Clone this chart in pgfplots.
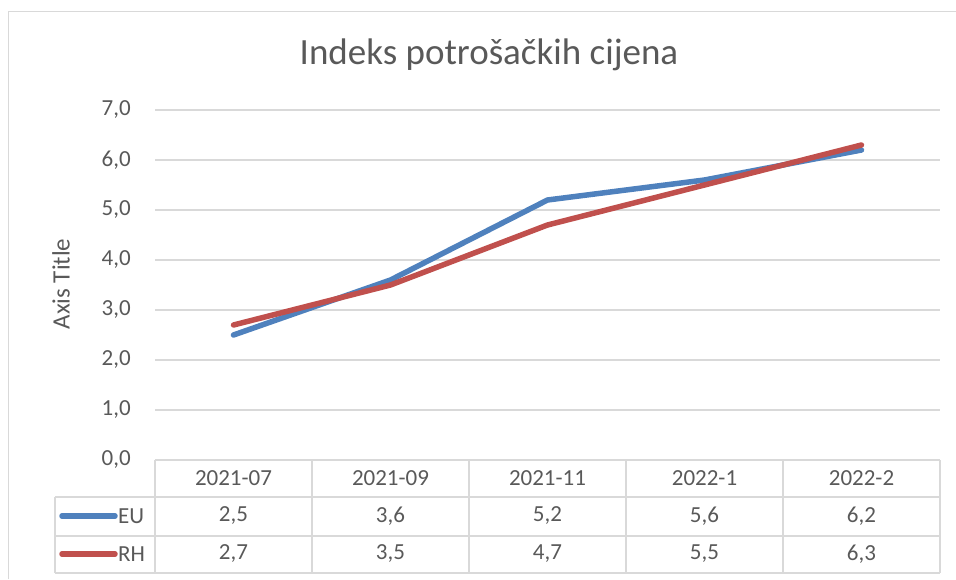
\documentclass[border=0pt]{standalone}
\usepackage{pgfplots}
\pgfplotsset{compat=1.18}
\usepackage{fontspec}
\setmainfont{Carlito}
\definecolor{txt}{HTML}{595959}
\definecolor{gridc}{HTML}{D9D9D9}
\definecolor{eu}{HTML}{4F81BD}
\definecolor{rh}{HTML}{C0504D}
\newcommand{\tf}{\fontsize{23}{27}\selectfont}
\begin{document}
\begin{tikzpicture}[x=1pt,y=1pt]
\path[use as bounding box] (0,0) rectangle (956,579);
\draw[gridc, line width=1pt] (8,0) -- (8,567) -- (956,567);
\begin{axis}[
  at={(155pt,119pt)}, anchor=south west,
  width=785pt, height=350pt, scale only axis,
  xmin=-0.5, xmax=4.5, ymin=0, ymax=7,
  ytick={0,1,2,3,4,5,6,7}, xtick=\empty,
  axis line style={draw=none},
  ymajorgrids, grid style={gridc, line width=1.5pt},
  major tick length=0pt,
  yticklabel style={font=\tf, text=txt, inner sep=0pt, anchor=east, xshift=-24pt},
  /pgf/number format/.cd, fixed, fixed zerofill, precision=1, use comma, assume math mode=true,
  /pgfplots/.cd, clip=false
]
\addplot[eu, line width=5.5pt, line cap=round, line join=round] coordinates {(0,2.5)(1,3.6)(2,5.2)(3,5.6)(4,6.2)};
\addplot[rh, line width=5.5pt, line cap=round, line join=round] coordinates {(0,2.7)(1,3.5)(2,4.7)(3,5.5)(4,6.3)};
\end{axis}
% data table
\draw[gridc, line width=1.5pt] (155,119) -- (940,119);
\foreach \yy in {82,43,6} \draw[gridc, line width=1.5pt] (55,\yy) -- (940,\yy);
\foreach \xx in {155,312,469,626,783,940} \draw[gridc, line width=1.5pt] (\xx,119) -- (\xx,6);
\draw[gridc, line width=1.5pt] (55,82) -- (55,6);
\foreach \lab [count=\i from 0] in {2021-07,2021-09,2021-11,2022-1,2022-2}
  \node[font=\tf, text=txt] at ({233.5+157*\i},101) {\lab};
\foreach \v [count=\i from 0] in {{2,5},{3,6},{5,2},{5,6},{6,2}}
  \node[font=\tf, text=txt] at ({233.5+157*\i},63) {\v};
\foreach \v [count=\i from 0] in {{2,7},{3,5},{4,7},{5,5},{6,3}}
  \node[font=\tf, text=txt] at ({233.5+157*\i},25) {\v};
\draw[eu, line width=5.5pt, line cap=round] (62,63) -- (115,63);
\draw[rh, line width=5.5pt, line cap=round] (62,25) -- (115,25);
\node[font=\tf, text=txt, anchor=west, inner sep=0pt] at (118,63) {EU};
\node[font=\tf, text=txt, anchor=west, inner sep=0pt] at (118,25) {RH};
\node[font=\fontsize{25}{30}\selectfont, text=txt, rotate=90] at (61,295) {Axis Title};
\node[font=\fontsize{37}{44}\selectfont, text=txt] at (489,524) {Indeks potrošačkih cijena};
\end{tikzpicture}
\end{document}
